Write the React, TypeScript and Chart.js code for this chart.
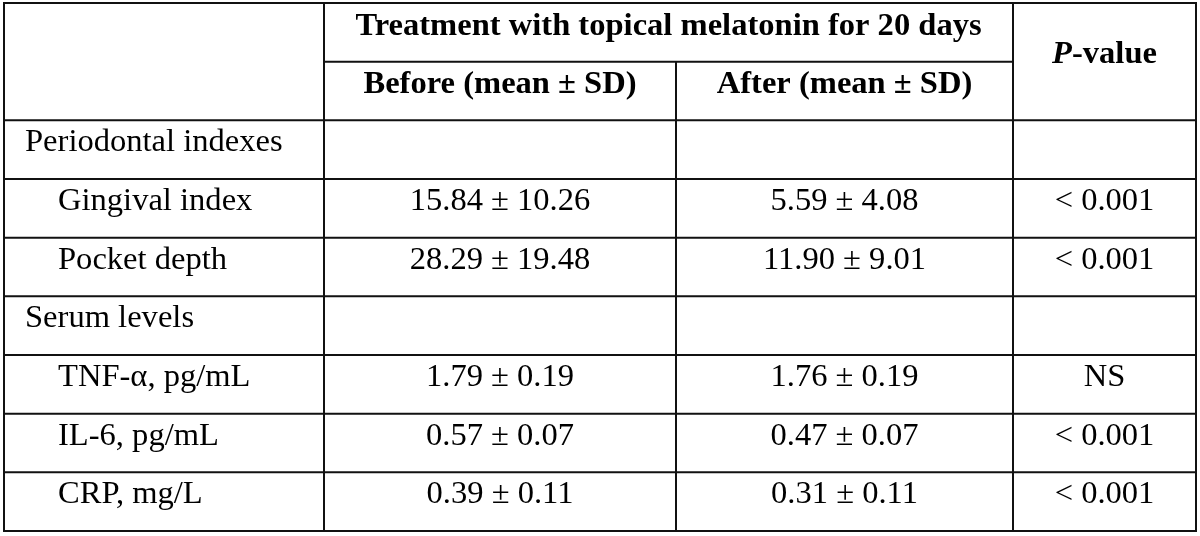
import React, { useEffect, useRef } from "react";
import { Chart, registerables } from "chart.js";

Chart.register(...registerables);

// ---- data ----
const groupTitle = "Treatment with topical melatonin for 20 days";
const beforeHeader = "Before (mean ± SD)";
const afterHeader = "After (mean ± SD)";
const rowLabels = [
  "Periodontal indexes",
  "Gingival index",
  "Pocket depth",
  "Serum levels",
  "TNF-α, pg/mL",
  "IL-6, pg/mL",
  "CRP, mg/L",
];
const rowIndent = [0, 1, 1, 0, 1, 1, 1];
const beforeMean = [null, 15.84, 28.29, null, 1.79, 0.57, 0.39];
const beforeSD = [null, 10.26, 19.48, null, 0.19, 0.07, 0.11];
const afterMean = [null, 5.59, 11.9, null, 1.76, 0.47, 0.31];
const afterSD = [null, 4.08, 9.01, null, 0.19, 0.07, 0.11];
const pValues = ["", "< 0.001", "< 0.001", "", "NS", "< 0.001", "< 0.001"];

// ---- layout ----
const W = 1200;
const H = 536;
const colEdges = [0, 320, 672, 1009, 1192]; // relative to chart area left
const FONT = "'Liberation Serif', 'Times New Roman', serif";
const FS = 31;
const HSTRETCH = 1.05;
const LINE = "#111";

const fmt = (m: number | null, s: number | null) =>
  m == null || s == null ? "" : `${m.toFixed(2)} ± ${s.toFixed(2)}`;

const rowKeys = ["h0", "h1", ...rowLabels];

const tablePlugin = {
  id: "tablePlugin",
  afterDraw(chart: any) {
    const ctx = chart.ctx as CanvasRenderingContext2D;
    const area = chart.chartArea;
    const y = chart.scales.y;
    const n = rowKeys.length;
    const rh = (area.bottom - area.top) / n;
    const top = (i: number) => y.getPixelForValue(i) - rh / 2;
    const X = (i: number) => area.left + colEdges[i];

    ctx.save();
    ctx.fillStyle = "#fff";
    ctx.fillRect(0, 0, chart.width, chart.height);

    // lines
    ctx.strokeStyle = LINE;
    ctx.lineWidth = 2;
    const hl = (x1: number, x2: number, yy: number) => {
      ctx.beginPath();
      ctx.moveTo(x1, yy);
      ctx.lineTo(x2, yy);
      ctx.stroke();
    };
    const vl = (xx: number, y1: number, y2: number) => {
      ctx.beginPath();
      ctx.moveTo(xx, y1);
      ctx.lineTo(xx, y2);
      ctx.stroke();
    };
    ctx.strokeRect(area.left, area.top, area.right - area.left, area.bottom - area.top);
    hl(X(1), X(3), top(1));
    for (let i = 2; i < n; i++) hl(area.left, area.right, top(i));
    vl(X(1), area.top, area.bottom);
    vl(X(3), area.top, area.bottom);
    vl(X(2), top(1), area.bottom);

    // text
    ctx.fillStyle = "#000";
    ctx.textBaseline = "alphabetic";
    const base = (i: number) => top(i) + 31;
    const txt = (s: string, x: number, yy: number, align: CanvasTextAlign) => {
      ctx.save();
      ctx.textAlign = align;
      ctx.translate(x, yy);
      ctx.scale(HSTRETCH, 1);
      ctx.fillText(s, 0, 0);
      ctx.restore();
    };

    ctx.font = `bold ${FS}px ${FONT}`;
    txt(groupTitle, (X(1) + X(3)) / 2, base(0) + 1, "center");
    txt(beforeHeader, (X(1) + X(2)) / 2, base(1), "center");
    txt(afterHeader, (X(2) + X(3)) / 2, base(1), "center");

    // P-value header (P italic)
    const pc = (X(3) + X(4)) / 2;
    const pb = (top(0) + top(2)) / 2 + 1;
    ctx.font = `italic bold ${FS}px ${FONT}`;
    const wP = ctx.measureText("P").width * HSTRETCH;
    ctx.font = `bold ${FS}px ${FONT}`;
    const wRest = ctx.measureText("-value").width * HSTRETCH;
    const sx = pc - (wP + wRest) / 2;
    ctx.font = `italic bold ${FS}px ${FONT}`;
    txt("P", sx, pb, "left");
    ctx.font = `bold ${FS}px ${FONT}`;
    txt("-value", sx + wP, pb, "left");

    ctx.font = `${FS}px ${FONT}`;
    rowLabels.forEach((lab, k) => {
      const i = k + 2;
      txt(lab, area.left + 21 + rowIndent[k] * 33, base(i), "left");
      txt(fmt(beforeMean[k], beforeSD[k]), (X(1) + X(2)) / 2, base(i), "center");
      txt(fmt(afterMean[k], afterSD[k]), (X(2) + X(3)) / 2, base(i), "center");
      txt(pValues[k], (X(3) + X(4)) / 2, base(i), "center");
    });
    ctx.restore();
  },
};

export default function App() {
  const ref = useRef<HTMLCanvasElement | null>(null);
  useEffect(() => {
    document.body.style.margin = "0";
    const canvas = ref.current;
    if (!canvas) return;
    const chart = new Chart(canvas, {
      type: "bar",
      data: {
        labels: rowKeys,
        datasets: [],
      },
      options: {
        animation: false,
        responsive: false,
        maintainAspectRatio: false,
        devicePixelRatio: 1,
        layout: { padding: { left: 4, right: 4, top: 3, bottom: 5 } },
        plugins: { legend: { display: false }, tooltip: { enabled: false } },
        indexAxis: "y",
        scales: {
          y: { type: "category", display: false, offset: true },
          x: { type: "linear", display: false, min: 0, max: 1 },
        },
      },
      plugins: [tablePlugin],
    });
    return () => chart.destroy();
  }, []);
  return (
    <div style={{ width: W, height: H, background: "#fff" }}>
      <canvas ref={ref} width={W} height={H} style={{ display: "block" }} />
    </div>
  );
}
